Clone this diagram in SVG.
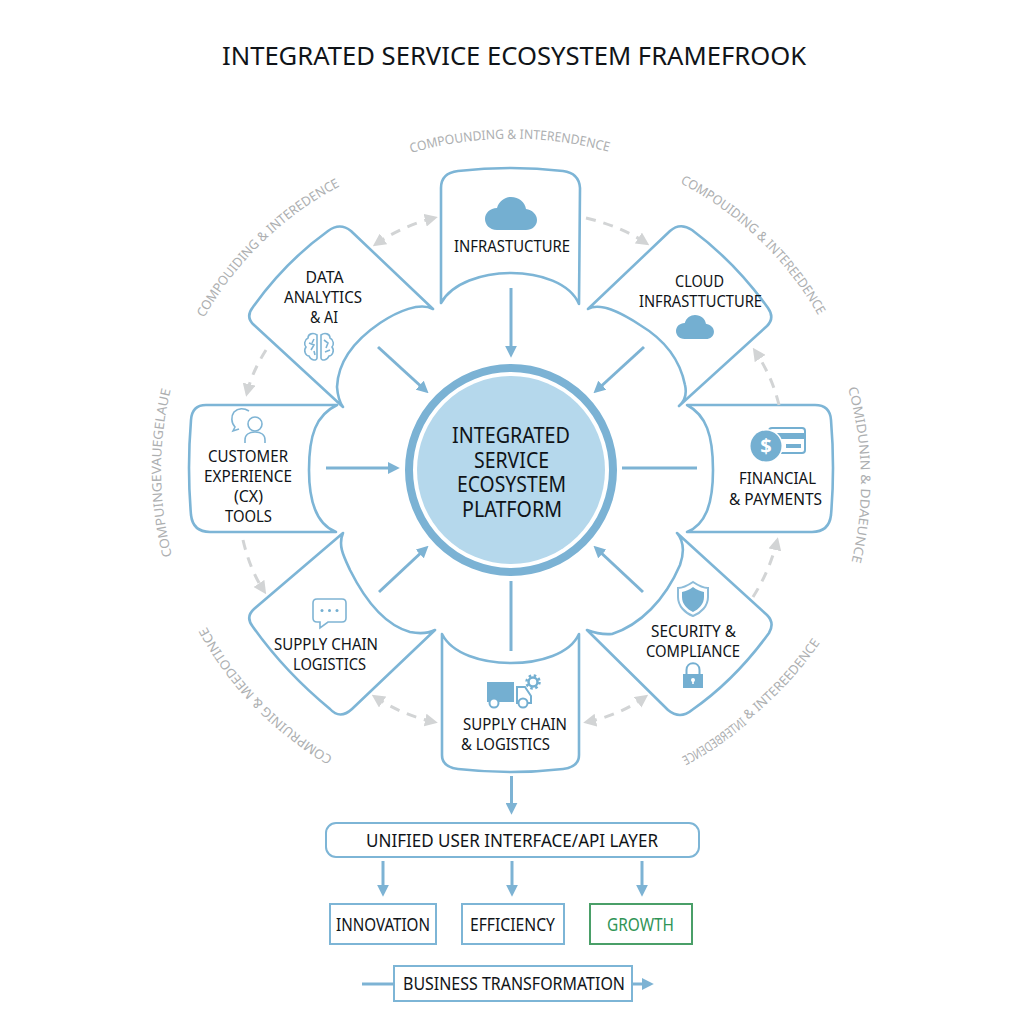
<svg xmlns="http://www.w3.org/2000/svg" width="1024" height="1024" viewBox="0 0 1024 1024">
<style>
text{font-family:"Noto Sans","Open Sans","Liberation Sans",sans-serif;fill:#101418}
.t{font-size:16.5px}
.n{fill:#fff;stroke:#7db5d6;stroke-width:2.6;stroke-linejoin:round}
.c{fill:none;stroke:#7db3d4;stroke-width:3}
.d{fill:none;stroke:#d2d4d5;stroke-width:3;stroke-dasharray:10 8}
.l{font-size:13px;fill:#adafb1}
.i{fill:#74afd1}
.o{fill:none;stroke:#7fb4d4;stroke-width:1.6}
.b{fill:#fff;stroke:#7db5d6;stroke-width:2}
</style>
<defs>
<marker id="a" viewBox="0 0 10 10" refX="6" refY="5" markerWidth="12" markerHeight="12" markerUnits="userSpaceOnUse" orient="auto"><path d="M0,0L10,5L0,10Z" fill="#7db3d4"/></marker>
<marker id="g" viewBox="0 0 10 10" refX="7" refY="5" markerWidth="13" markerHeight="13" markerUnits="userSpaceOnUse" orient="auto-start-reverse"><path d="M0,0L10,5L0,10Z" fill="#d2d4d5"/></marker>
<path id="cloud" d="M12,33C4,33 0,27 0,22C0,16 5,11 12,11C14,4 20,0 26,0C34,0 40,5 41,12C47,13 52,17 52,23C52,29 47,33 41,33Z"/>
<path id="p1" d="M411,153A364,364 0 0 1 613,153"/>
<path id="p2" d="M204,318A338,338 0 0 1 348,182"/>
<path id="p3" d="M680,183A338,338 0 0 1 824,326"/>
<path id="p4" d="M848,388A345,345 0 0 1 850,568"/>
<path id="p5" d="M748,720A349,349 0 0 0 827,632"/>
<path id="p6" d="M275,724A349,349 0 0 0 345,770"/>
<path id="p7" d="M333,757A338,338 0 0 1 204,622"/>
<path id="p8" d="M172,556A345,345 0 0 1 172,384"/>
</defs>
<rect width="1024" height="1024" fill="#fff"/>
<text id="title" x="514" y="65" text-anchor="middle" font-size="26" textLength="584" lengthAdjust="spacingAndGlyphs">INTEGRATED SERVICE ECOSYSTEM FRAMEFROOK</text>

<g id="labels">
<text class="l"><textPath href="#p1" textLength="200" lengthAdjust="spacingAndGlyphs">COMPOUNDING &amp; INTERENDENCE</textPath></text>
<text class="l"><textPath href="#p2" textLength="192" lengthAdjust="spacingAndGlyphs">COMPOUIDING &amp; INTEREDENCE</textPath></text>
<text class="l"><textPath href="#p3" textLength="194" lengthAdjust="spacingAndGlyphs">COMPOUIDING &amp; INTEREEDENCE</textPath></text>
<text class="l"><textPath href="#p4" textLength="176" lengthAdjust="spacingAndGlyphs">COMIDUNIN &amp; DDAEUNCE</textPath></text>
<text class="l"><textPath href="#p5" textLength="106" lengthAdjust="spacingAndGlyphs">&amp; INTEREEDENCE</textPath></text>
<text class="l" transform="translate(1022,0) scale(-1,1)"><textPath href="#p6" textLength="74" lengthAdjust="spacingAndGlyphs">INTERBEDENCE</textPath></text>
<text class="l"><textPath href="#p7" textLength="184" lengthAdjust="spacingAndGlyphs">COMPRUINIG &amp; MEEDOTINCE</textPath></text>
<text class="l"><textPath href="#p8" textLength="168" lengthAdjust="spacingAndGlyphs">COMPUINGEVAUEGELAUE</textPath></text>
</g>

<g id="node-data-analytics">
<path class="n" d="M433,309C420,302 398,311 380,323C355,340 338,362 337,387Q338,400 343,407L254,325Q245,317 253,307Q285,262 328,231Q340,222 351,231Z"/>
<text class="t" x="324.500" y="283" text-anchor="middle" textLength="38" lengthAdjust="spacingAndGlyphs">DATA</text>
<text class="t" x="323" y="303" text-anchor="middle" textLength="78" lengthAdjust="spacingAndGlyphs">ANALYTICS</text>
<text class="t" x="324" y="323" text-anchor="middle" textLength="28" lengthAdjust="spacingAndGlyphs">&amp; AI</text>
<path class="o" d="M317,335C313,332 308,334 308,338C304,340 304,345 306,347C303,351 306,356 309,356C311,361 317,361 317,358ZM321,335C325,332 330,334 330,338C334,340 334,345 332,347C335,351 332,356 329,356C327,361 321,361 321,358ZM309,343L314,345L311,350M314,339L312,343M314,351L315,355M324,340L328,343L326,348M325,352L330,350"/>
</g>

<g id="node-infrastructure">
<path class="n" d="M441,303L441,188Q441,173 458,171Q511,165 563,171Q579,173 580,188L579,304C570,283 540,273 511,273C482,273 452,283 441,303Z"/>
<use href="#cloud" x="485" y="197" class="i"/>
<text class="t" x="512" y="252" text-anchor="middle" textLength="116" lengthAdjust="spacingAndGlyphs">INFRASTUCTURE</text>
</g>

<g id="node-cloud-infrastructure">
<path class="n" d="M588,309L670,231Q680,222 692,230Q735,262 768,308Q775,318 767,326L679,406Q688,398 685,385C680,360 665,340 640,325C620,312 600,302 588,309Z"/>
<text class="t" x="699.500" y="287" text-anchor="middle" textLength="49" lengthAdjust="spacingAndGlyphs">CLOUD</text>
<text class="t" x="700.500" y="307" text-anchor="middle" textLength="123" lengthAdjust="spacingAndGlyphs">INFRASTTUCTURE</text>
<use href="#cloud" transform="translate(676,315) scale(.73)" class="i"/>
</g>

<g id="node-customer-experience">
<path class="n" d="M337,405L206,405Q192,405 191,420Q187,468 191,515Q193,532 210,532L336,532C318,525 309,505 309,470C309,435 316,415 337,405Z"/>
<path class="o" d="M249,411C244,408 238,408 234,412C231,416 231,423 235,427L233,431L239,429"/>
<circle class="o" cx="255" cy="424" r="7"/>
<path class="o" d="M245,443L245,440C245,435 249,432 255,432C261,432 265,435 265,440L265,443"/>
<text class="t" x="248" y="462" text-anchor="middle" textLength="80" lengthAdjust="spacingAndGlyphs">CUSTOMER</text>
<text class="t" x="248" y="482" text-anchor="middle" textLength="88" lengthAdjust="spacingAndGlyphs">EXPERIENCE</text>
<text class="t" x="248.500" y="502" text-anchor="middle" textLength="29" lengthAdjust="spacingAndGlyphs">(CX)</text>
<text class="t" x="248.500" y="522" text-anchor="middle" textLength="47" lengthAdjust="spacingAndGlyphs">TOOLS</text>
</g>

<g id="node-financial">
<path class="n" d="M687,405L815,405Q830,405 831,420Q835,468 831,515Q829,532 812,532L687,532C705,525 713,505 713,470C713,435 706,415 687,405Z"/>
<rect x="769" y="428" width="36" height="25" rx="3" fill="none" stroke="#74afd1" stroke-width="2"/>
<rect x="769" y="433" width="36" height="6" class="i"/>
<rect x="786" y="444" width="15" height="4" class="i"/>
<circle cx="766" cy="446" r="17" fill="#fff"/>
<circle cx="766" cy="446" r="15.500" class="i"/>
<text x="766" y="453" text-anchor="middle" font-size="20" font-weight="700" style="fill:#fff">$</text>
<text class="t" x="777.500" y="484" text-anchor="middle" textLength="77" lengthAdjust="spacingAndGlyphs">FINANCIAL</text>
<text class="t" x="775.500" y="505" text-anchor="middle" textLength="93" lengthAdjust="spacingAndGlyphs">&amp; PAYMENTS</text>
</g>

<g id="node-supply-chain-logistics">
<path class="n" d="M343,533L254,609Q245,617 253,627Q285,672 330,709Q340,720 352,709L435,630Q425,635 410,632C385,625 365,600 350,570C343,555 338,545 343,533Z"/>
<path class="o" d="M317,599L342,599Q346,599 346,603L346,618Q346,622 342,622L328,622L320,628L320,622L317,622Q313,622 313,618L313,603Q313,599 317,599Z"/>
<circle cx="322" cy="610.500" r="1.500" class="i"/><circle cx="329.500" cy="610.500" r="1.500" class="i"/><circle cx="337" cy="610.500" r="1.500" class="i"/>
<text class="t" x="326" y="650" text-anchor="middle" textLength="104" lengthAdjust="spacingAndGlyphs">SUPPLY CHAIN</text>
<text class="t" x="329.500" y="670" text-anchor="middle" textLength="73" lengthAdjust="spacingAndGlyphs">LOGISTICS</text>
</g>

<g id="node-security">
<path class="n" d="M677,533L767,615Q775,623 769,633Q735,680 692,710Q680,720 668,710L587,630Q600,635 612,634C640,625 665,600 680,565Q687,545 677,533Z"/>
<path d="M693,582C687,586 683,588 678,588L678,597C678,606 685,613 693,616C701,613 708,606 708,597L708,588C703,588 699,586 693,582Z" fill="none" stroke="#8dbcd9" stroke-width="2"/>
<path d="M693,587C689,590 686,591 682,592L682,597C682,604 687,609 693,612C699,609 704,604 704,597L704,592C700,591 697,590 693,587Z" class="i"/>
<text class="t" x="693.500" y="637" text-anchor="middle" textLength="85" lengthAdjust="spacingAndGlyphs">SECURITY &amp;</text>
<text class="t" x="693" y="657" text-anchor="middle" textLength="94" lengthAdjust="spacingAndGlyphs">COMPLIANCE</text>
<path d="M686.500,674L686.500,670C686.500,661 699.500,661 699.500,670L699.500,674" fill="none" stroke="#74afd1" stroke-width="2"/>
<rect x="683" y="674" width="20" height="14" class="i"/>
<circle cx="693" cy="680" r="2" fill="#fff"/><rect x="692.200" y="680" width="1.600" height="4" fill="#fff"/>
</g>

<g id="node-supply-chain">
<path class="n" d="M442,634L442,755Q442,767 458,769Q511,775 563,769Q579,767 579,755L579,634C570,654 540,663 511,663C482,663 452,654 442,634Z"/>
<rect x="487" y="682" width="27" height="20" class="i"/>
<path d="M517,687L525,687L531,696L531,703L517,703Z" fill="none" stroke="#74afd1" stroke-width="2"/>
<circle cx="494" cy="703" r="4.500" fill="#fff" stroke="#74afd1" stroke-width="2"/>
<circle cx="523" cy="703" r="4.500" fill="#fff" stroke="#74afd1" stroke-width="2"/>
<circle cx="533" cy="682" r="4.500" fill="#fff" stroke="#74afd1" stroke-width="2.500"/>
<circle cx="533" cy="682" r="6.500" fill="none" stroke="#74afd1" stroke-width="2.500" stroke-dasharray="2.500 2.600"/>
<text class="t" x="515" y="730" text-anchor="middle" textLength="104" lengthAdjust="spacingAndGlyphs">SUPPLY CHAIN</text>
<text class="t" x="505.500" y="750" text-anchor="middle" textLength="89" lengthAdjust="spacingAndGlyphs">&amp; LOGISTICS</text>
</g>

<g id="node-platform">
<circle cx="511" cy="470" r="102" fill="#fff" stroke="#7bb2d4" stroke-width="8"/>
<circle cx="511" cy="470" r="94" fill="#b5d8ec"/>
<text x="511" y="443" text-anchor="middle" font-size="21" textLength="118" lengthAdjust="spacingAndGlyphs">INTEGRATED</text>
<text x="511.500" y="468" text-anchor="middle" font-size="21" textLength="75" lengthAdjust="spacingAndGlyphs">SERVICE</text>
<text x="511.500" y="492" text-anchor="middle" font-size="21" textLength="109" lengthAdjust="spacingAndGlyphs">ECOSYSTEM</text>
<text x="512" y="517" text-anchor="middle" font-size="21" textLength="100" lengthAdjust="spacingAndGlyphs">PLATFORM</text>
</g>

<g id="node-ui-layer">
<rect x="326" y="823" width="373" height="34" rx="10" fill="#fff" stroke="#7db5d6" stroke-width="2"/>
<text x="512" y="847" text-anchor="middle" font-size="17.500" textLength="292" lengthAdjust="spacingAndGlyphs">UNIFIED USER INTERFACE/API LAYER</text>
</g>
<g id="node-innovation">
<rect class="b" x="330" y="904" width="106" height="40"/>
<text x="383" y="931" text-anchor="middle" font-size="17.500" textLength="94" lengthAdjust="spacingAndGlyphs">INNOVATION</text>
</g>
<g id="node-efficiency">
<rect class="b" x="462" y="904" width="102" height="40"/>
<text x="512.500" y="931" text-anchor="middle" font-size="17.500" textLength="85" lengthAdjust="spacingAndGlyphs">EFFICIENCY</text>
</g>
<g id="node-growth">
<rect x="590" y="904" width="102" height="40" fill="#fff" stroke="#4a9f68" stroke-width="2"/>
<text x="640.500" y="931" text-anchor="middle" font-size="17.500" textLength="67" lengthAdjust="spacingAndGlyphs" style="fill:#2f9456">GROWTH</text>
</g>
<g id="node-transformation">
<rect class="b" x="394" y="966" width="238" height="35"/>
<text x="514" y="990" text-anchor="middle" font-size="17.500" textLength="222" lengthAdjust="spacingAndGlyphs">BUSINESS TRANSFORMATION</text>
</g>

<g id="connectors">
<path class="c" marker-end="url(#a)" d="M511,288V353"/>
<path class="c" marker-end="url(#a)" d="M378,347L425,390"/>
<path class="c" marker-end="url(#a)" d="M644,347L597,390"/>
<path class="c" marker-end="url(#a)" d="M326,468H395"/>
<path class="c" d="M622,468H697"/>
<path class="c" marker-end="url(#a)" d="M379,592L425,549"/>
<path class="c" marker-end="url(#a)" d="M643,592L597,549"/>
<path class="c" d="M511,581V651"/>
<path class="c" marker-end="url(#a)" d="M511.500,776V810"/>
<path class="c" marker-end="url(#a)" d="M383,861V892"/>
<path class="c" marker-end="url(#a)" d="M512,861V892"/>
<path class="c" marker-end="url(#a)" d="M642,861V892"/>
<path class="c" d="M362,984H394"/>
<path class="c" marker-end="url(#a)" d="M632,984H649"/>
<path class="d" marker-start="url(#g)" marker-end="url(#g)" d="M434,218Q402,226 376,244"/>
<path class="d" marker-end="url(#g)" d="M586,218Q620,226 646,243"/>
<path class="d" marker-end="url(#g)" d="M266,350Q252,372 247,393"/>
<path class="d" marker-end="url(#g)" d="M779,405Q772,376 755,351"/>
<path class="d" marker-end="url(#g)" d="M243,540Q250,570 264,591"/>
<path class="d" marker-end="url(#g)" d="M753,597Q770,570 777,541"/>
<path class="d" marker-start="url(#g)" marker-end="url(#g)" d="M375,697Q402,715 434,722"/>
<path class="d" marker-start="url(#g)" marker-end="url(#g)" d="M587,722Q620,715 645,697"/>
</g>
</svg>
